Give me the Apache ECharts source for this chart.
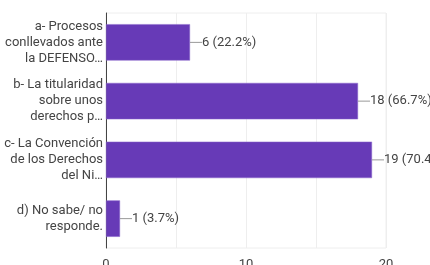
<!DOCTYPE html>
<html>
<head>
<meta charset="utf-8">
<script src="https://cdn.jsdelivr.net/npm/echarts@6/dist/echarts.min.js"></script>
<style>
	html, body { margin: 0; padding: 0; background: #fff; }
	#chart { width: 430px; height: 265px; }
</style>
</head>
<body>
<div id="chart"></div>
<script>
// respuestas (selección múltiple, 27 respuestas)
var categories = [
	'a- Procesos\nconllevados ante\nla DEFENSO…',
	'b- La titularidad\nsobre unos\nderechos p…',
	'c- La Convención\nde los Derechos\ndel Ni…',
	'd) No sabe/ no\nresponde.'
];
var counts = [6, 18, 19, 1];
var percents = ['22.2', '66.7', '70.4', '3.7'];
var xTicks = [0, 10, 20];

var chart = echarts.init(document.getElementById('chart'));

var option = {
	animation: false,
	textStyle: { fontFamily: 'Roboto' },
	grid: {
		left: 106,
		right: 44,
		top: 13,
		bottom: 17,
		outerBoundsMode: 'none',
		show: true,
		borderColor: '#eeeeee',
		borderWidth: 1
	},
	xAxis: {
		type: 'value',
		min: 0,
		max: 20,
		interval: 5,
		axisLine: { show: false },
		axisTick: { show: false },
		splitLine: { lineStyle: { color: '#eeeeee' } },
		axisLabel: {
			color: '#444',
			fontSize: 13,
			margin: 10,
			formatter: function (v) {
				return xTicks.indexOf(v) > -1 ? String(v) : '';
			}
		}
	},
	yAxis: {
		type: 'category',
		inverse: true,
		data: categories,
		axisLine: { show: true, lineStyle: { color: '#444', width: 1 } },
		axisTick: { show: false },
		axisLabel: {
			color: '#444',
			fontSize: 13,
			lineHeight: 16,
			margin: 3,
			align: 'right'
		}
	},
	series: [{
		type: 'bar',
		data: counts,
		barWidth: '62%',
		itemStyle: { color: '#673ab7', borderColor: '#8c6bcc', borderWidth: 0.5 },
		label: {
			show: true,
			position: 'right',
			distance: 0,
			formatter: function (p) {
				return '{l|}{v|' + p.value + ' (' + percents[p.dataIndex] + '%)}';
			},
			rich: {
				l: { width: 12, height: 1, backgroundColor: '#999' },
				v: { color: '#444', fontSize: 13, fontFamily: 'Roboto' }
			}
		}
	}]
};
chart.setOption(option);
</script>
</body>
</html>
